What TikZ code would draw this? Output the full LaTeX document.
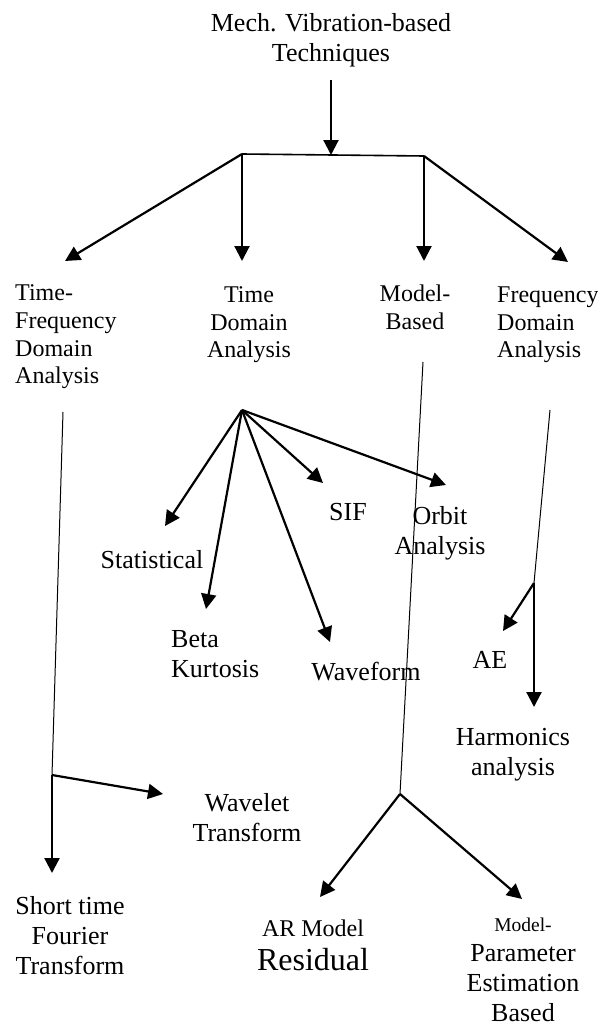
\documentclass[tikz,border=0pt]{standalone}
\usepackage{fontspec}
\setmainfont{Liberation Serif}
\usetikzlibrary{arrows.meta}
\begin{document}
\begin{tikzpicture}[x=1pt,y=-1pt,
  lbl/.style={inner sep=0pt, font=\fontsize{26}{30}\selectfont, align=center},
  lblsm/.style={inner sep=0pt, font=\fontsize{24}{27.6}\selectfont, align=center},
  arr/.style={line width=2.2pt, -{Triangle[length=15pt,width=15pt]}},
  feed/.style={line width=1pt},
  bar/.style={line width=1.6pt}]
\useasboundingbox (0,0) rectangle (597,1030);

% labels
\node[lbl] (title) at (331,40) {Mech. Vibration-based\\Techniques};
\node[lblsm, align=left, anchor=west] (tf) at (15,337) {Time-\\Frequency\\Domain\\Analysis};
\node[lblsm] (td) at (249,325) {Time\\Domain\\Analysis};
\node[lblsm] (mb) at (415,307) {Model-\\Based};
\node[lblsm, align=left, anchor=west] (fd) at (497,325) {Frequency\\Domain\\Analysis};
\node[lbl] (stat) at (152,560) {Statistical};
\node[lbl] (sif) at (348,512) {SIF};
\node[lbl] (orbit) at (440,533) {Orbit\\Analysis};
\node[lbl, align=left, anchor=west] (beta) at (171,654) {Beta\\Kurtosis};
\node[lbl] (wave) at (366,672) {Waveform};
\node[lbl] (ae) at (490,660) {AE};
\node[lbl] (harm) at (513,755) {Harmonics\\analysis};
\node[lbl] (wav) at (247,818) {Wavelet\\Transform};
\node[lbl] (stft) at (70,936) {Short time\\Fourier\\Transform};
\node[lbl, font=\fontsize{24}{28}\selectfont] (ar) at (313,945) {AR Model\\[6pt]{\fontsize{32}{34}\selectfont Residual}};
\node[lbl] (mpe) at (523,970) {{\fontsize{19.5}{30}\selectfont Model-}\\Parameter\\Estimation\\Based};

% junctions and arrow ends
\coordinate (top-out) at (331,80);
\coordinate (jl) at (242,154);
\coordinate (jm) at (331,155);
\coordinate (jr) at (424,156);
\coordinate (tf-in) at (65,261);
\coordinate (td-in) at (242,261);
\coordinate (mb-in) at (424,261);
\coordinate (fd-in) at (568,262);

\coordinate (td-out) at (242,410);
\coordinate (stat-in) at (165,526);
\coordinate (beta-in) at (206,609);
\coordinate (wave-in) at (330,642);
\coordinate (sif-in) at (323,483);
\coordinate (orbit-in) at (446,485);

\coordinate (tf-out) at (63,412);
\coordinate (tf-j) at (52,775);
\coordinate (wav-in) at (163,794);
\coordinate (stft-in) at (52,873);

\coordinate (mb-out) at (423,362);
\coordinate (mb-j) at (400,794);
\coordinate (ar-in) at (320,897);
\coordinate (mpe-in) at (522,899);

\coordinate (fd-out) at (550,410);
\coordinate (fd-j) at (534,583);
\coordinate (ae-in) at (503,631);
\coordinate (harm-in) at (534,707);

% top level split
\draw[arr] (top-out) -- (jm);
\draw[bar] (jl) -- (jr);
\draw[arr] (jl) -- (tf-in);
\draw[arr] (jl) -- (td-in);
\draw[arr] (jr) -- (mb-in);
\draw[arr] (jr) -- (fd-in);

% time domain fan
\draw[arr] (td-out) -- (stat-in);
\draw[arr] (td-out) -- (beta-in);
\draw[arr] (td-out) -- (wave-in);
\draw[arr] (td-out) -- (sif-in);
\draw[arr] (td-out) -- (orbit-in);

% time-frequency branch
\draw[feed] (tf-out) -- (tf-j);
\draw[arr] (tf-j) -- (wav-in);
\draw[arr] (tf-j) -- (stft-in);

% model-based branch
\draw[feed] (mb-out) -- (mb-j);
\draw[arr] (mb-j) -- (ar-in);
\draw[arr] (mb-j) -- (mpe-in);

% frequency domain branch
\draw[feed] (fd-out) -- (fd-j);
\draw[arr] (fd-j) -- (ae-in);
\draw[arr] (fd-j) -- (harm-in);
\end{tikzpicture}
\end{document}
